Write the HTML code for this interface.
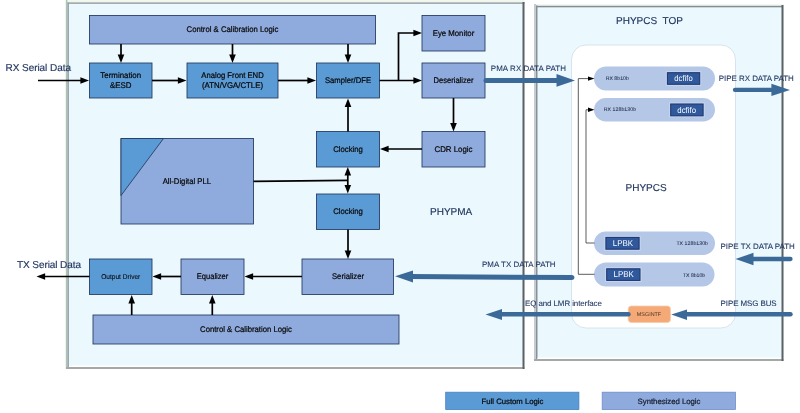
<!DOCTYPE html>
<html>
<head>
<meta charset="utf-8">
<title>PHY block diagram</title>
<style>
html,body{margin:0;padding:0;background:#fff;}
body{width:800px;height:413px;overflow:hidden;font-family:"Liberation Sans",sans-serif;}
svg{display:block;filter:blur(0.3px);}
text{font-family:"Liberation Sans",sans-serif;text-rendering:geometricPrecision;}
.lbl{font-size:10px;fill:#213660;stroke:#213660;stroke-width:0.15px;}
.bt{font-size:8.2px;fill:#080808;stroke:#080808;stroke-width:0.22px;text-anchor:middle;}
.sm{font-size:5.2px;fill:#2b3552;stroke:#2b3552;stroke-width:0.08px;}
.wt{font-size:8.4px;fill:#fff;text-anchor:middle;}
.pl{font-size:7.95px;fill:#213660;stroke:#213660;stroke-width:0.08px;}
.dk{fill:#5b9bd5;stroke:#22375e;stroke-width:0.85;}
.lt{fill:#8faadc;stroke:#22375e;stroke-width:0.85;}
.ln{stroke:#000;stroke-width:1.700;fill:none;}
.tl{stroke:#333;stroke-width:0.8;fill:none;}
.ba{stroke:#3b6a99;fill:none;stroke-linecap:round;}
.bh{fill:#3b6a99;}
</style>
</head>
<body>
<svg width="800" height="413" viewBox="0 0 800 413">
<rect width="800" height="413" fill="#fff"/>

<!-- PHYPMA container -->
<rect x="66" y="0" width="458.500" height="369" fill="#ebf8fe"/>
<rect x="66" y="0" width="458.500" height="2.500" fill="#f2f7ee"/>
<rect x="67.500" y="2.500" width="457" height="1.200" fill="#868c93"/>
<rect x="65.800" y="0" width="1.600" height="369" fill="#abc6ae"/>
<rect x="67.400" y="2.5" width="1.500" height="365" fill="#969ea8"/>
<rect x="69" y="365.500" width="454" height="1.5" fill="#fff"/>
<rect x="66" y="367" width="458.500" height="2" fill="#a5a9a6"/>
<rect x="522.500" y="2" width="2" height="367" fill="#5c6164"/>

<!-- PHYPCS TOP container -->
<rect x="534" y="4.200" width="249.500" height="356.800" fill="#ebf8fe"/>
<rect x="534" y="4.200" width="249.500" height="1.600" fill="#f2f7ee"/>
<rect x="536" y="5.800" width="247" height="1.500" fill="#868c93"/>
<rect x="534" y="4" width="2" height="357" fill="#c4ccd2"/>
<rect x="536" y="5.500" width="1.5" height="354" fill="#8a9098"/>
<rect x="537.500" y="357.500" width="244" height="1.5" fill="#fff"/>
<rect x="534" y="359" width="249.500" height="2" fill="#a5a9a6"/>
<rect x="781.500" y="5" width="2" height="356" fill="#5c6164"/>

<!-- PHYPCS white box -->
<rect x="571.5" y="45" width="164" height="283" rx="14.500" ry="14.500" fill="#fff" stroke="#cfdde8" stroke-width="0.8"/>

<!-- PHYPMA blocks -->
<rect class="lt" x="89.5" y="15.5" width="286" height="28.5"/>
<rect class="dk" x="89.5" y="63" width="62.5" height="35"/>
<rect class="dk" x="187" y="63" width="91" height="35"/>
<rect class="dk" x="316.5" y="63" width="63" height="35"/>
<rect class="lt" x="422" y="15.5" width="63" height="35.5"/>
<rect class="lt" x="422" y="63" width="63" height="35"/>
<rect class="lt" x="422" y="131.5" width="63" height="35.5"/>
<rect class="dk" x="316.5" y="131.5" width="63" height="35.5"/>
<rect class="dk" x="316.5" y="194" width="63" height="35.5"/>
<rect class="lt" x="121" y="138.5" width="132.5" height="85.5"/>
<polygon class="dk" points="121,138.5 163.5,138.5 121,195.5"/>
<rect class="lt" x="302" y="259" width="91.5" height="35.5"/>
<rect class="lt" x="181" y="259" width="63" height="35.5"/>
<rect class="dk" x="89.5" y="259" width="62.5" height="35.5"/>
<rect class="lt" x="93" y="315" width="306" height="29"/>

<!-- black arrows -->
<g class="ln">
<path d="M38 80.5 L81.4 80.5"/>
<path d="M152 80.5 L178.9 80.5"/>
<path d="M278 80.5 L308.4 80.5"/>
<path d="M121 44 L121 55.4"/>
<path d="M232.5 44 L232.5 55.4"/>
<path d="M348 44 L348 55.4"/>
<path d="M379.5 80.5 L414.4 80.5"/>
<path d="M398.5 80.5 L398.5 33 L414.4 33"/>
<path d="M453.5 98 L453.5 123.9"/>
<path d="M422 149 L387.6 149"/>
<path d="M348 131.5 L348 106.1"/>
<path d="M347.8 181 L347.8 174.6"/>
<path d="M347.8 181 L347.8 185.9"/>
<path d="M348 229.5 L348 251.4"/>
<path d="M302 276.5 L252.1 276.5"/>
<path d="M181 276.5 L160.1 276.5"/>
<path d="M89.5 276.5 L44.1 276.5"/>
<path d="M131.7 315 L131.7 302.6"/>
<path d="M212.3 315 L212.3 302.6"/>
<path d="M253.5 181.300L347.800 180.300"/>
</g>
<g fill="#000">
<polygon points="89,80.5 80.4,83.8 80.4,77.2"/>
<polygon points="186.5,80.5 177.9,83.8 177.9,77.2"/>
<polygon points="316,80.5 307.4,83.8 307.4,77.2"/>
<polygon points="121,63 117.7,54.4 124.3,54.4"/>
<polygon points="232.5,63 229.2,54.4 235.8,54.4"/>
<polygon points="348,63 344.7,54.4 351.3,54.4"/>
<polygon points="422,80.5 413.4,83.8 413.4,77.2"/>
<polygon points="422,33 413.4,36.3 413.4,29.7"/>
<polygon points="453.5,131.5 450.2,122.9 456.8,122.9"/>
<polygon points="380,149 388.6,145.7 388.6,152.3"/>
<polygon points="348,98.5 351.3,107.1 344.7,107.1"/>
<polygon points="347.8,167 351.1,175.6 344.5,175.6"/>
<polygon points="347.8,193.5 344.5,184.9 351.1,184.9"/>
<polygon points="348,259 344.7,250.4 351.3,250.4"/>
<polygon points="244.5,276.5 253.1,273.2 253.1,279.8"/>
<polygon points="152.5,276.5 161.1,273.2 161.1,279.8"/>
<polygon points="36.5,276.5 45.1,273.2 45.1,279.8"/>
<polygon points="131.7,295 135,303.6 128.4,303.6"/>
<polygon points="212.3,295 215.6,303.6 209,303.6"/>
</g>

<!-- block labels -->
<text class="bt" x="232.500" y="32.3" textLength="91.9" lengthAdjust="spacingAndGlyphs">Control &amp; Calibration Logic</text>
<text class="bt" x="120.750" y="78.3" textLength="40.8" lengthAdjust="spacingAndGlyphs">Termination</text>
<text class="bt" x="120.750" y="87.8" textLength="21.5" lengthAdjust="spacingAndGlyphs">&amp;ESD</text>
<text class="bt" x="232.500" y="78.3" textLength="62.4" lengthAdjust="spacingAndGlyphs">Analog Front END</text>
<text class="bt" x="232.500" y="87.8" textLength="61" lengthAdjust="spacingAndGlyphs">(ATN/VGA/CTLE)</text>
<text class="bt" x="348" y="83.3" textLength="46" lengthAdjust="spacingAndGlyphs">Sampler/DFE</text>
<text class="bt" x="453.500" y="35.8" textLength="41.5" lengthAdjust="spacingAndGlyphs">Eye Monitor</text>
<text class="bt" x="453.500" y="83.3" textLength="40" lengthAdjust="spacingAndGlyphs">Deserializer</text>
<text class="bt" x="453.500" y="151.8" textLength="38" lengthAdjust="spacingAndGlyphs">CDR Logic</text>
<text class="bt" x="348" y="151.8" textLength="29.7" lengthAdjust="spacingAndGlyphs">Clocking</text>
<text class="bt" x="348" y="214.3" textLength="29.7" lengthAdjust="spacingAndGlyphs">Clocking</text>
<text class="bt" x="186.900" y="183.6" textLength="48.4" lengthAdjust="spacingAndGlyphs">All-Digital PLL</text>
<text class="bt" x="348" y="279.3" textLength="32" lengthAdjust="spacingAndGlyphs">Serializer</text>
<text class="bt" x="212.500" y="279.3" textLength="31.6" lengthAdjust="spacingAndGlyphs">Equalizer</text>
<text class="bt" x="120.750" y="279.3" style="font-size:7px;stroke-width:0.08px" textLength="39" lengthAdjust="spacingAndGlyphs">Output Driver</text>
<text class="bt" x="246" y="332.3" textLength="91.9" lengthAdjust="spacingAndGlyphs">Control &amp; Calibration Logic</text>

<!-- outside labels -->
<text class="lbl" x="5.500" y="71.300" textLength="65.500">RX Serial Data</text>
<text class="lbl" x="17" y="267.5" textLength="64">TX Serial Data</text>
<text class="lbl" x="430" y="214.600">PHYPMA</text>
<text class="lbl" x="616" y="24.100" style="white-space:pre">PHYPCS  TOP</text>
<text class="lbl" x="625.500" y="190.700">PHYPCS</text>

<!-- pills -->
<rect x="594" y="66.5" width="121" height="24" rx="12" fill="#b4c7e7"/>
<rect x="594" y="98" width="121" height="23.5" rx="11.75" fill="#b4c7e7"/>
<rect x="594" y="231.500" width="121" height="23.5" rx="11.75" fill="#b4c7e7"/>
<rect x="594" y="262.500" width="120.500" height="24" rx="12" fill="#b4c7e7"/>

<rect x="666.30" y="71.60" width="34.50" height="13.80" fill="none" stroke="#c6d6f3" stroke-width="0.9"/><rect x="667.40" y="72.70" width="32.30" height="11.60" fill="#30589c" stroke="#1f3468" stroke-width="1"/>
<rect x="669.60" y="102.90" width="34.60" height="14.00" fill="none" stroke="#c6d6f3" stroke-width="0.9"/><rect x="670.70" y="104.00" width="32.40" height="11.80" fill="#30589c" stroke="#1f3468" stroke-width="1"/>
<rect x="604.80" y="236.30" width="35.40" height="14.00" fill="none" stroke="#c6d6f3" stroke-width="0.9"/><rect x="605.90" y="237.40" width="33.20" height="11.80" fill="#30589c" stroke="#1f3468" stroke-width="1"/>
<rect x="605.60" y="267.70" width="35.50" height="13.80" fill="none" stroke="#c6d6f3" stroke-width="0.9"/><rect x="606.70" y="268.80" width="33.30" height="11.60" fill="#30589c" stroke="#1f3468" stroke-width="1"/>
<text class="wt" x="683.500" y="81.100" textLength="18.300" lengthAdjust="spacingAndGlyphs">dcfifo</text>
<text class="wt" x="686.700" y="112.800" textLength="18.700" lengthAdjust="spacingAndGlyphs">dcfifo</text>
<text class="wt" x="622.900" y="246.200" textLength="20.300" lengthAdjust="spacingAndGlyphs">LPBK</text>
<text class="wt" x="623.700" y="277.100" textLength="20.300" lengthAdjust="spacingAndGlyphs">LPBK</text>
<text class="sm" x="605.700" y="80.200" textLength="23.100">RX 8b10b</text>
<text class="sm" x="603.700" y="110.800" textLength="32.400">RX 128b130b</text>
<text class="sm" x="676.400" y="245.300" textLength="31.600">TX 128b130b</text>
<text class="sm" x="682.900" y="276.700" textLength="22.300">TX 8b10b</text>

<!-- thin lines -->
<g class="tl">
<path d="M590 78.600H578.300V274.300H594.500"/>
<path d="M590 109.800H586V243H594.500"/>
</g>
<polygon points="594.500,78.600 588,76.400 588,80.800" fill="#000"/>
<polygon points="594.500,109.800 588,107.600 588,112" fill="#000"/>

<!-- MSGINTF -->
<rect x="628.200" y="306" width="42.300" height="16.500" rx="3.200" fill="#f4a977" stroke="#f8cdb0" stroke-width="0.8"/>
<text x="649" y="316.200" text-anchor="middle" textLength="24.300" style="font-size:5.400px;fill:#4a3424">MSGINTF</text>

<!-- big arrows -->
<path class="ba" stroke-width="5" d="M486 80.400H560"/>
<polygon class="bh" points="575,80.400 556.500,74.100 556.500,86.800"/>
<path class="ba" stroke-width="5" d="M572 277.600L410 276.500"/>
<polygon class="bh" points="395,276.300 413,270.400 413,282.600"/>
<path class="ba" stroke-width="4.300" d="M735 89.900H775"/>
<polygon class="bh" points="790,89.900 771.400,83.700 771.400,96.100"/>
<path class="ba" stroke-width="4.300" d="M790.500 259H750"/>
<polygon class="bh" points="735.500,259 753.500,252.800 753.500,265.200"/>
<path class="ba" stroke-width="4.400" d="M790.500 314.300H685"/>
<polygon class="bh" points="671.200,314.600 687,309.400 687,320"/>
<path class="ba" stroke-width="4.400" d="M628.500 314.200H498"/>
<polygon class="bh" points="485.500,314.500 502,309 502,320"/>

<!-- path labels -->
<text class="pl" x="490.800" y="71.100" textLength="75.100">PMA RX DATA PATH</text>
<text class="pl" x="482" y="267" textLength="73.600">PMA TX DATA PATH</text>
<text class="pl" x="718.700" y="81.400" textLength="75.100">PIPE RX DATA PATH</text>
<text class="pl" x="720.500" y="249.400" textLength="74.300">PIPE TX DATA PATH</text>
<text class="pl" x="720.600" y="306.400" textLength="56">PIPE MSG BUS</text>
<text class="pl" x="525" y="306.200" textLength="76.900">EQ and LMR interface</text>

<!-- legend -->
<rect x="445.700" y="392.200" width="133.200" height="17.300" fill="#5b9bd5" stroke="#4682c2" stroke-width="0.8"/>
<rect x="602.200" y="392.200" width="133.200" height="17.300" fill="#8faadc" stroke="#6f8dcc" stroke-width="0.8"/>
<text class="bt" x="512.500" y="403.5" textLength="61.800" style="font-size:7.75px">Full Custom Logic</text>
<text class="bt" x="669" y="403.5" textLength="62.800" style="font-size:7.75px;fill:#26365a">Synthesized Logic</text>
</svg>
</body>
</html>
